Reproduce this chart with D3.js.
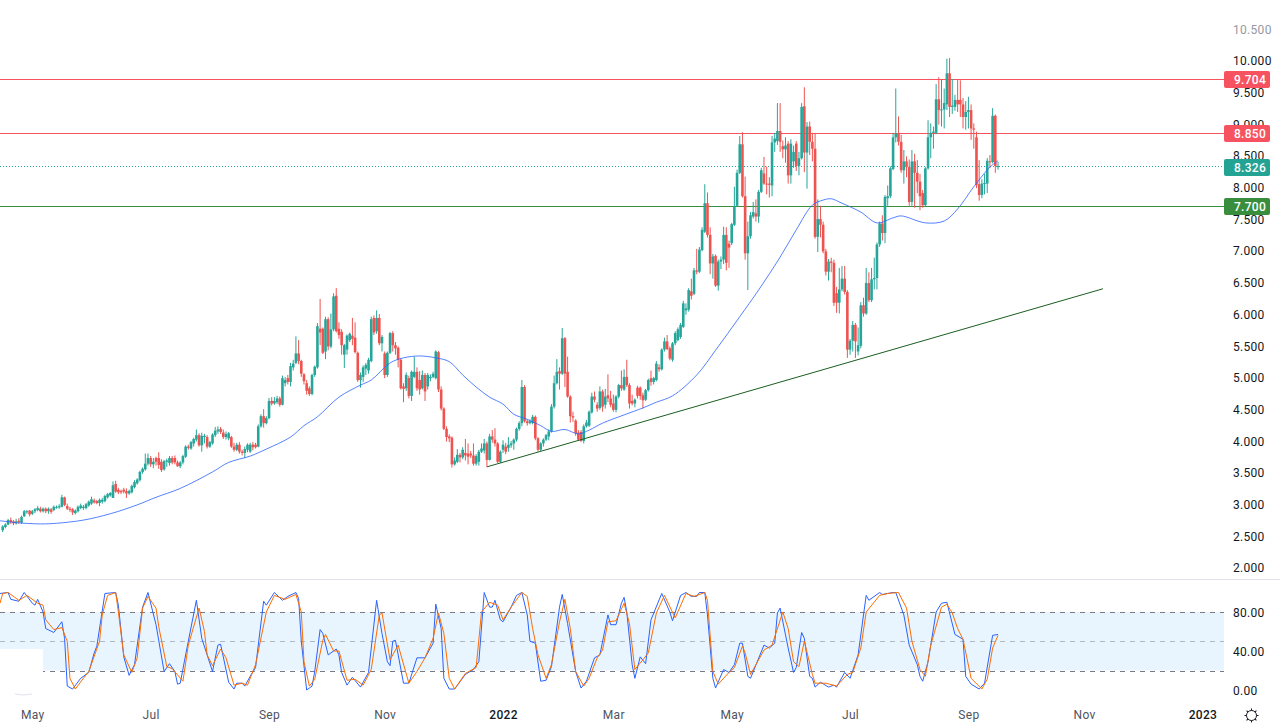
<!DOCTYPE html>
<html>
<head>
<meta charset="utf-8">
<script src="https://cdn.jsdelivr.net/npm/d3@7"></script>
<style>
  html, body { margin: 0; padding: 0; background: #fff; }
  svg { display: block; }
  text { font-family: Roboto, "Noto Sans", sans-serif; }
</style>
</head>
<body>
<svg id="chart" width="1280" height="728"></svg>
<script>
// daily candles, one value per bar
const opens = [
  2.58,2.63,2.67,2.74,2.72,2.69,2.73,2.70,2.80,2.87,
  2.89,2.84,2.88,2.90,2.92,2.88,2.92,2.88,2.91,2.90,
  2.94,2.94,2.95,3.10,2.96,2.92,2.91,2.85,2.88,2.93,
  2.93,2.93,2.97,3.00,3.05,3.04,3.01,3.03,3.04,3.10,
  3.13,3.09,3.31,3.22,3.20,3.22,3.20,3.16,3.18,3.26,
  3.32,3.37,3.50,3.54,3.63,3.72,3.62,3.72,3.72,3.66,
  3.54,3.66,3.64,3.72,3.72,3.65,3.59,3.65,3.74,3.90,
  3.87,3.95,4.01,4.08,3.92,4.05,4.05,3.90,3.95,4.08,
  4.14,4.18,4.12,4.05,4.03,4.05,3.90,3.85,3.93,3.82,
  3.80,3.85,3.82,3.93,3.93,3.90,4.22,4.38,4.27,4.35,
  4.62,4.58,4.60,4.66,4.56,4.90,4.98,4.92,5.15,5.22,
  5.37,5.25,5.04,4.90,4.82,4.73,5.03,5.15,5.76,5.76,
  5.40,5.91,5.48,5.75,6.28,5.76,5.71,5.35,5.43,5.58,
  5.65,5.62,5.38,4.95,5.00,5.13,5.10,5.25,5.93,5.72,
  5.93,5.53,5.37,5.03,5.38,5.69,5.50,5.46,5.27,4.85,
  4.82,4.98,4.70,5.00,5.08,4.95,4.82,5.03,4.85,4.98,
  5.00,4.98,5.39,4.80,4.50,4.18,4.06,4.04,3.62,3.66,
  3.77,3.73,3.80,3.79,3.79,3.76,3.63,3.66,3.82,3.84,
  3.95,3.69,4.06,4.01,3.95,3.66,3.85,3.90,3.88,3.92,
  3.95,4.01,4.18,4.27,4.84,4.30,4.27,4.27,4.37,4.03,
  3.85,3.95,4.01,4.06,4.14,4.53,4.90,5.09,5.05,5.61,
  5.08,4.69,4.38,4.31,4.12,4.13,3.99,4.22,4.23,4.44,
  4.69,4.56,4.51,4.77,4.56,4.71,4.66,4.58,4.48,4.69,
  4.87,4.80,5.00,4.87,4.62,4.58,4.83,4.83,4.71,4.64,
  4.79,4.98,4.92,4.95,5.15,5.12,5.43,5.56,5.45,5.27,
  5.53,5.58,5.63,5.79,6.05,6.06,6.35,6.31,6.68,6.66,
  7.00,7.29,7.74,7.24,6.79,6.91,6.44,6.82,6.85,7.24,
  7.10,7.11,7.40,7.70,8.22,8.67,7.85,6.95,7.22,7.53,
  7.58,7.53,7.92,8.21,8.05,8.05,8.02,8.70,8.72,8.88,
  8.64,8.59,8.68,8.18,8.40,8.68,8.33,8.45,9.27,8.54,
  8.95,8.71,8.60,7.21,7.49,7.40,6.98,6.66,6.82,6.80,
  6.32,6.17,6.38,6.55,6.34,5.43,5.57,5.82,5.40,5.49,
  6.13,6.00,6.48,6.21,6.54,6.56,7.09,7.42,7.27,7.82,
  7.85,8.28,8.78,8.84,8.71,8.26,8.40,8.31,7.76,8.40,
  8.22,8.08,7.90,7.71,8.29,8.78,8.85,8.85,9.38,9.21,
  9.22,9.30,9.79,9.26,9.26,9.37,9.37,9.30,9.10,9.18,
  9.21,8.92,8.78,8.04,7.87,8.05,8.05,8.40,8.39,9.12,
  8.31
];
const closes = [
  2.64,2.67,2.74,2.71,2.69,2.72,2.71,2.79,2.88,2.88,
  2.83,2.88,2.91,2.93,2.88,2.92,2.88,2.92,2.87,2.95,
  2.95,2.96,3.10,2.98,2.92,2.90,2.86,2.89,2.95,2.97,
  2.95,2.99,3.03,3.07,3.02,3.01,3.06,3.06,3.12,3.15,
  3.17,3.29,3.19,3.18,3.18,3.19,3.16,3.20,3.28,3.34,
  3.38,3.50,3.55,3.63,3.72,3.62,3.66,3.66,3.61,3.53,
  3.67,3.68,3.72,3.65,3.65,3.59,3.65,3.75,3.90,3.88,
  3.97,4.02,4.08,3.92,4.07,4.07,3.90,3.97,4.09,4.15,
  4.17,4.13,4.05,4.10,4.11,3.90,3.85,3.93,3.82,3.80,
  3.86,3.93,3.93,3.89,3.89,4.22,4.38,4.27,4.35,4.62,
  4.58,4.62,4.66,4.56,4.98,4.95,4.92,5.17,5.21,5.37,
  5.25,5.05,4.93,4.78,4.73,5.03,5.16,5.80,5.70,5.38,
  5.91,5.48,5.75,6.27,5.72,5.66,5.50,5.50,5.65,5.68,
  5.60,5.39,4.95,5.03,5.15,5.19,5.27,5.91,5.70,5.93,
  5.53,5.63,5.03,5.38,5.69,5.50,5.45,5.27,4.82,4.81,
  5.03,4.70,5.08,5.08,4.82,4.80,5.03,4.77,5.03,5.00,
  5.05,5.40,4.80,4.50,4.18,4.05,4.03,3.62,3.68,3.77,
  3.73,3.85,3.76,3.74,3.76,3.63,3.75,3.82,3.87,3.95,
  3.69,4.06,4.01,3.95,3.66,3.82,3.93,3.82,3.93,3.95,
  4.01,4.18,4.27,4.84,4.30,4.27,4.30,4.37,4.03,3.85,
  3.95,4.01,4.08,4.14,4.53,4.90,5.08,5.05,5.61,5.05,
  4.69,4.38,4.36,4.11,4.01,3.99,4.22,4.28,4.45,4.69,
  4.64,4.50,4.77,4.53,4.69,4.66,4.56,4.48,4.69,4.87,
  4.82,5.00,4.87,4.58,4.58,4.64,4.70,4.70,4.63,4.79,
  4.95,4.92,4.98,5.21,5.12,5.43,5.56,5.44,5.29,5.53,
  5.69,5.75,5.82,6.16,6.08,6.37,6.28,6.68,6.66,7.01,
  7.32,7.74,7.24,6.79,6.90,6.44,6.82,6.85,7.24,6.80,
  7.04,7.41,7.69,8.22,8.67,7.85,6.95,7.22,7.55,7.60,
  7.53,7.92,8.26,8.05,8.04,8.03,8.70,8.76,8.88,8.71,
  8.59,8.65,8.18,8.68,8.55,8.33,8.45,9.26,8.54,8.95,
  8.71,8.60,7.21,7.49,7.40,6.98,6.66,6.82,6.80,6.17,
  6.17,6.38,6.55,6.34,5.43,5.57,5.82,5.56,5.50,6.13,
  6.00,6.48,6.21,6.54,6.56,7.09,7.42,7.27,7.84,7.85,
  8.29,8.78,8.84,8.71,8.26,8.40,8.31,7.76,8.40,8.22,
  8.08,7.85,7.71,8.29,8.78,8.85,8.87,9.38,9.21,9.22,
  9.32,9.79,9.26,9.28,9.37,9.30,9.30,9.10,9.18,9.21,
  8.92,8.90,8.03,7.87,8.05,8.06,8.41,8.39,9.12,8.33,
  8.326
];
const highs = [
  2.66,2.69,2.76,2.78,2.74,2.76,2.77,2.81,2.90,2.90,
  2.90,2.90,2.93,2.96,2.95,2.94,2.94,2.94,2.93,2.97,
  2.97,2.99,3.14,3.11,3.00,2.95,2.93,2.91,2.97,3.00,
  2.98,3.01,3.05,3.11,3.08,3.06,3.08,3.09,3.14,3.17,
  3.18,3.35,3.36,3.25,3.22,3.25,3.24,3.22,3.30,3.37,
  3.40,3.52,3.57,3.79,3.79,3.75,3.72,3.74,3.81,3.70,
  3.69,3.71,3.75,3.75,3.76,3.68,3.67,3.77,3.92,3.93,
  3.99,4.04,4.17,4.11,4.12,4.10,4.08,3.99,4.11,4.21,
  4.22,4.21,4.17,4.14,4.13,4.07,3.96,3.96,3.97,3.85,
  3.90,3.95,3.96,3.97,3.96,4.25,4.41,4.49,4.38,4.67,
  4.68,4.68,4.70,4.69,5.02,5.00,5.03,5.22,5.27,5.64,
  5.58,5.27,5.06,4.95,4.85,5.05,5.18,5.85,6.23,5.78,
  5.95,5.94,6.00,6.32,6.40,5.86,5.75,5.52,5.67,5.70,
  5.93,5.86,5.40,5.07,5.18,5.22,5.30,5.95,5.97,6.05,
  5.99,5.66,5.40,5.40,5.71,5.72,5.55,5.48,5.29,4.90,
  5.07,5.02,5.10,5.32,5.15,5.09,5.10,5.06,5.06,5.04,
  5.08,5.42,5.41,4.85,4.52,4.22,4.09,4.06,3.73,3.86,
  3.80,3.89,4.02,3.95,3.83,3.95,3.78,3.85,3.95,4.02,
  3.98,4.10,4.16,4.19,3.97,3.84,4.00,3.96,4.05,3.99,
  4.03,4.20,4.30,4.95,4.87,4.33,4.33,4.40,4.39,4.05,
  3.97,4.03,4.10,4.17,4.57,5.02,5.28,5.15,5.77,5.63,
  5.32,4.71,4.45,4.33,4.16,4.16,4.25,4.32,4.47,4.75,
  4.77,4.60,4.85,4.80,4.81,5.04,4.78,4.72,4.71,4.89,
  5.10,5.12,5.27,4.90,4.72,4.66,4.86,4.85,4.75,4.81,
  4.97,5.10,5.00,5.25,5.20,5.45,5.62,5.66,5.48,5.55,
  5.72,5.78,5.85,6.20,6.16,6.40,6.55,6.72,7.02,7.05,
  7.36,8.04,7.91,7.36,6.94,6.93,6.85,6.90,7.37,7.36,
  7.15,7.43,8.00,8.27,8.80,8.86,8.16,7.45,7.60,7.76,
  7.80,7.95,8.30,8.47,8.32,8.15,8.80,8.85,9.32,9.32,
  8.73,8.78,8.72,8.75,8.65,8.72,8.55,9.32,9.57,9.02,
  9.03,8.85,8.85,7.80,7.70,7.45,7.02,6.86,6.88,6.85,
  6.42,6.72,6.75,6.75,6.37,5.60,5.88,5.85,5.78,6.18,
  6.25,6.72,6.65,6.72,6.88,7.12,7.45,7.55,7.87,8.02,
  8.32,8.85,9.55,9.11,8.82,8.58,8.48,8.43,8.58,8.52,
  8.42,8.20,7.95,8.31,9.05,9.00,8.95,9.62,9.73,9.70,
  9.55,10.02,10.03,9.70,9.45,9.70,9.68,9.40,9.35,9.42,
  9.30,9.00,8.87,8.42,8.12,8.20,8.45,8.50,9.24,9.14,
  8.39
];
const lows = [
  2.55,2.61,2.66,2.68,2.66,2.67,2.68,2.68,2.79,2.84,
  2.80,2.82,2.85,2.88,2.86,2.86,2.85,2.84,2.84,2.88,
  2.92,2.92,2.94,2.96,2.90,2.87,2.82,2.83,2.86,2.91,
  2.90,2.91,2.95,2.98,3.00,2.99,2.96,3.00,3.02,3.08,
  3.11,3.09,3.17,3.15,3.15,3.16,3.09,3.14,3.16,3.24,
  3.30,3.35,3.47,3.52,3.60,3.58,3.56,3.60,3.55,3.50,
  3.52,3.58,3.60,3.62,3.62,3.58,3.56,3.62,3.72,3.85,
  3.85,3.90,3.98,3.90,3.82,3.95,3.87,3.88,3.93,4.05,
  4.10,4.10,4.02,4.01,4.00,3.88,3.82,3.83,3.79,3.76,
  3.72,3.81,3.80,3.84,3.87,3.89,4.20,4.20,4.25,4.33,
  4.55,4.56,4.57,4.53,4.55,4.85,4.88,4.85,5.10,5.20,
  5.20,5.00,4.88,4.72,4.70,4.71,5.00,5.13,5.50,5.36,
  5.28,5.42,5.45,5.72,5.70,5.60,5.35,5.14,5.35,5.55,
  5.50,5.37,4.92,4.83,4.92,5.03,5.05,5.23,5.66,5.68,
  5.50,5.40,4.98,5.00,5.36,5.40,5.35,5.15,4.80,4.60,
  4.78,4.66,4.62,4.98,4.78,4.72,4.80,4.62,4.80,4.93,
  4.98,4.96,4.76,4.47,4.16,3.98,3.97,3.57,3.60,3.64,
  3.65,3.70,3.68,3.62,3.72,3.60,3.60,3.60,3.80,3.79,
  3.58,3.68,3.96,3.90,3.64,3.64,3.80,3.78,3.82,3.88,
  3.85,3.98,4.15,4.22,4.28,4.23,4.25,4.25,4.00,3.82,
  3.83,3.90,3.99,4.00,4.12,4.50,4.88,4.80,5.03,4.84,
  4.67,4.28,4.29,4.07,3.99,3.97,3.95,4.20,4.21,4.42,
  4.60,4.45,4.48,4.45,4.50,4.60,4.52,4.45,4.44,4.66,
  4.78,4.78,4.84,4.50,4.55,4.52,4.66,4.64,4.50,4.62,
  4.77,4.86,4.88,4.93,5.08,5.10,5.40,5.42,5.26,5.24,
  5.50,5.56,5.60,5.77,5.98,6.03,6.22,6.29,6.62,6.64,
  6.98,7.27,7.20,6.62,6.55,6.42,6.36,6.70,6.78,6.68,
  6.72,7.08,7.38,7.68,8.20,7.83,6.85,6.37,7.18,7.50,
  7.45,7.43,7.90,8.03,7.88,7.83,7.85,8.55,8.66,8.55,
  8.45,8.38,8.05,8.05,8.30,8.25,8.18,8.43,8.23,7.97,
  8.50,8.40,7.18,6.97,7.20,6.95,6.60,6.52,6.65,6.12,
  6.01,6.00,6.35,6.30,5.30,5.35,5.40,5.30,5.34,5.45,
  5.95,5.98,6.18,6.18,6.38,6.38,7.05,7.15,7.11,7.70,
  7.82,8.26,8.70,8.65,8.22,8.05,8.15,7.70,7.68,7.67,
  7.90,7.63,7.67,7.69,8.27,8.45,8.60,8.83,8.98,8.95,
  8.92,9.21,9.10,9.15,9.20,9.18,9.10,8.92,8.90,8.92,
  8.74,8.60,7.98,7.78,7.82,7.88,7.90,8.30,8.37,8.22,
  8.27
];

// moving average, [bar, price]
const movingAverage = [
  [-1,2.73],[5,2.70],[14,2.68],[20,2.69],[30,2.74],[40,2.84],[50,2.98],[57,3.10],[66,3.24],
  [78,3.50],[84,3.65],[92,3.75],[98,3.86],[107,4.05],[112,4.23],[117,4.37],[125,4.68],
  [133,4.87],[137,4.95],[144,5.22],[149,5.30],[155,5.33],[161,5.30],[166,5.24],[171,5.03],
  [176,4.84],[181,4.68],[186,4.57],[190,4.41],[195,4.33],[200,4.23],[204,4.14],[209,4.17],
  [214,4.10],[218,4.16],[223,4.27],[231,4.40],[238,4.51],[243,4.60],[249,4.70],
  [258,5.03],[265,5.42],[274,5.95],[281,6.37],[289,6.89],[295,7.32],[301,7.71],
  [305,7.79],[308,7.81],[312,7.74],[319,7.60],[325,7.43],[331,7.51],[334,7.54],[343,7.43],
  [350,7.46],[355,7.65],[361,8.00],[367,8.31],[370,8.41]
];

// stochastic %K and %D, [bar, value]
const stochK = [
  [-1,99],[2,100],[3,93],[6,91],[8,100],[11,89],[12,87],[13,93],[15,80],[16,63],[19,59],[22,70],
  [23,53],[24,4],[26,1],[29,12],[32,18],[34,38],[35,45],[38,99],[42,100],[43,87],[45,34],[47,15],
  [49,26],[52,85],[54,100],[57,67],[60,19],[62,27],[64,19],[65,6],[66,7],[68,36],[72,92],[74,53],
  [78,19],[80,46],[81,47],[84,8],[86,1],[87,7],[89,7],[90,4],[92,14],[94,23],[97,91],[98,87],
  [101,100],[104,92],[106,96],[109,100],[110,94],[111,50],[113,0],[115,4],[116,19],[118,62],
  [119,58],[121,36],[124,42],[125,36],[126,18],[128,5],[130,13],[133,3],[136,18],[139,92],[141,58],
  [143,29],[144,25],[145,50],[146,51],[149,7],[151,7],[154,33],[157,33],[160,48],[161,88],[163,63],
  [164,12],[166,1],[168,1],[172,16],[175,21],[177,29],[179,100],[181,85],[182,85],[183,92],
  [185,72],[186,70],[189,85],[191,97],[193,100],[195,77],[196,50],[198,48],[200,9],[202,10],
  [204,24],[207,85],[208,98],[210,68],[213,19],[215,2],[217,9],[220,33],[222,36],[225,77],[226,67],
  [228,67],[230,89],[231,95],[232,80],[234,26],[235,12],[237,34],[239,27],[241,72],[245,99],
  [248,80],[249,71],[252,97],[254,100],[256,96],[258,96],[259,100],[261,100],[262,77],[264,12],
  [265,2],[268,21],[270,18],[272,26],[274,48],[275,48],[277,14],[278,12],[283,46],[285,43],[287,48],
  [288,79],[289,84],[292,43],[294,18],[295,23],[297,59],[298,53],[300,14],[301,12],[302,3],[304,8],
  [307,3],[309,5],[310,3],[313,18],[315,12],[318,36],[320,77],[321,97],[322,92],[326,100],[327,98],
  [329,99],[331,100],[332,100],[335,77],[337,46],[340,26],[341,14],[342,9],[344,29],[347,80],
  [349,89],[351,90],[354,57],[357,52],[358,14],[360,6],[363,1],[365,7],[368,56],[370,57]
];
const stochD = [
  [-1,89],[0,99],[2,100],[6,92],[9,97],[13,89],[15,87],[16,72],[19,62],[22,64],[24,50],[25,12],
  [27,1],[30,12],[32,19],[36,50],[37,77],[39,97],[42,100],[43,80],[45,36],[48,18],[50,33],[52,84],
  [54,96],[57,84],[58,65],[61,24],[63,22],[67,9],[69,46],[73,84],[75,60],[76,36],[78,25],[81,42],
  [83,33],[86,5],[89,7],[91,5],[94,26],[98,80],[101,97],[105,93],[109,98],[111,80],[112,29],[114,4],
  [116,11],[119,51],[120,57],[123,40],[125,40],[128,10],[131,11],[134,5],[137,21],[140,77],[141,79],
  [144,31],[147,46],[151,7],[154,19],[157,33],[160,53],[162,79],[164,58],[166,12],[168,1],[172,17],
  [176,23],[178,80],[181,90],[184,87],[186,72],[189,85],[193,100],[195,96],[197,63],[199,36],[202,12],
  [204,26],[207,70],[209,93],[211,63],[213,19],[216,4],[218,12],[221,33],[223,41],[225,70],[228,71],
  [231,89],[233,68],[235,21],[238,31],[240,38],[243,79],[246,97],[250,74],[254,99],[257,96],[261,100],
  [262,92],[264,19],[266,6],[270,18],[272,23],[275,45],[276,38],[278,16],[283,41],[286,46],[290,80],
  [292,63],[294,29],[296,24],[298,50],[301,16],[302,7],[306,7],[310,4],[314,16],[316,18],[319,43],
  [321,80],[326,97],[329,99],[333,100],[336,84],[338,50],[341,21],[343,14],[345,46],[349,85],[351,88],
  [353,79],[355,63],[357,52],[360,12],[364,1],[366,11],[368,43],[370,56]
];

const trendBars = [180, 409];
const trendPrices = [3.58, 6.39];

const priceTicks = [2,2.5,3,3.5,4,4.5,5,5.5,6,6.5,7,7.5,8,8.5,9,9.5,10,10.5];
const stochTicks = [0, 40, 80];
const stochBands = [20, 50, 80];
const timeTickBars = [11, 55, 99, 142, 186, 227, 271, 315, 359, 402, 446];
const timeTickLabels = ["May","Jul","Sep","Nov","2022","Mar","May","Jul","Sep","Nov","2023"];

const resistanceLevels = [9.704, 8.85];
const supportLevel = 7.7;
const lastPrice = 8.326;

const UP = "#26a69a", DOWN = "#ef5350";

const svg = d3.select("#chart");

// scales
const x = d3.scaleLinear().domain([0, 370]).range([2.7, 998]);
const y = d3.scaleLinear().domain([2, 10]).range([567, 60]);
const yStoch = d3.scaleLinear().domain([0, 80]).range([690, 612]);

// pane divider
svg.append("line")
  .attr("x1", 0).attr("x2", 1280).attr("y1", 579.5).attr("y2", 579.5)
  .attr("stroke", "#e0e3eb");

// horizontal levels
const levels = svg.append("g");
resistanceLevels.forEach(function (p) {
  levels.append("line")
    .attr("x1", 0).attr("x2", 1224)
    .attr("y1", Math.round(y(p)) + 0.5).attr("y2", Math.round(y(p)) + 0.5)
    .attr("stroke", "#f7525f");
});
levels.append("line")
  .attr("x1", 0).attr("x2", 1224)
  .attr("y1", Math.round(y(supportLevel)) + 0.5).attr("y2", Math.round(y(supportLevel)) + 0.5)
  .attr("stroke", "#388e3c");
levels.append("line")
  .attr("x1", 0).attr("x2", 1224)
  .attr("y1", Math.round(y(lastPrice)) + 0.5).attr("y2", Math.round(y(lastPrice)) + 0.5)
  .attr("stroke", UP).attr("stroke-dasharray", "1,2");

// candles
const candles = svg.append("g").selectAll("g")
  .data(d3.range(opens.length))
  .enter().append("g")
  .attr("fill", (i) => (closes[i] >= opens[i] ? UP : DOWN))
  .attr("stroke", (i) => (closes[i] >= opens[i] ? UP : DOWN));
candles.append("line")
  .attr("x1", (i) => x(i))
  .attr("x2", (i) => x(i))
  .attr("y1", (i) => y(highs[i]))
  .attr("y2", (i) => y(lows[i]));
candles.append("rect")
  .attr("stroke", "none")
  .attr("x", (i) => x(i) - 1.3)
  .attr("width", 2.6)
  .attr("y", (i) => y(Math.max(opens[i], closes[i])))
  .attr("height", (i) => Math.max(1, Math.abs(y(opens[i]) - y(closes[i]))));

// moving average and trend line
svg.append("path")
  .attr("fill", "none").attr("stroke", "#2962ff").attr("stroke-width", 0.8)
  .attr("d", d3.line().x((d) => Math.max(0, x(d[0]))).y((d) => y(d[1])).curve(d3.curveCatmullRom)(movingAverage));
svg.append("line")
  .attr("x1", x(trendBars[0])).attr("y1", y(trendPrices[0]))
  .attr("x2", x(trendBars[1])).attr("y2", y(trendPrices[1]))
  .attr("stroke", "#1b5e20").attr("stroke-width", 1);

// stochastic pane
svg.append("rect")
  .attr("x", 0).attr("width", 1224)
  .attr("y", yStoch(80)).attr("height", yStoch(20) - yStoch(80))
  .attr("fill", "#2196f3").attr("fill-opacity", 0.1);
svg.selectAll(".band")
  .data(stochBands)
  .enter().append("line")
  .attr("class", "band")
  .attr("x1", 0).attr("x2", 1224)
  .attr("y1", (d) => Math.round(yStoch(d)) + 0.5).attr("y2", (d) => Math.round(yStoch(d)) + 0.5)
  .attr("stroke", "#787b86").attr("stroke-dasharray", "5,5")
  .attr("stroke-opacity", (d) => (d === 50 ? 0.5 : 1));
// the pane legend box left a white patch in the band, and a faint mark below it
svg.append("rect").attr("x", 0).attr("y", 649).attr("width", 43).attr("height", 24).attr("fill", "#fff");
svg.append("path").attr("d", "M15,694 Q23,696 32,694").attr("fill", "none").attr("stroke", "#e0e3eb");

const stochLine = d3.line().x((d) => x(d[0])).y((d) => yStoch(d[1]));
const stochLines = svg.append("g");
stochLines.append("path").attr("fill", "none").attr("stroke", "#2962ff").attr("d", stochLine(stochK));
stochLines.append("path").attr("fill", "none").attr("stroke", "#ff6d00").attr("d", stochLine(stochD));

// right axes
const priceAxis = svg.append("g")
  .attr("transform", "translate(1233,1)")
  .call(d3.axisRight(y).tickValues(priceTicks).tickSize(0).tickPadding(0).tickFormat(d3.format(".3f")));
priceAxis.select(".domain").remove();
priceAxis.selectAll("text")
  .attr("font-size", 12).attr("letter-spacing", 0.3)
  .attr("font-family", "Roboto")
  .attr("fill", (d) => (d === 10.5 ? "#9598a1" : "#131722"));

const stochAxis = svg.append("g")
  .attr("transform", "translate(1233,1)")
  .call(d3.axisRight(yStoch).tickValues(stochTicks).tickSize(0).tickPadding(0).tickFormat(d3.format(".2f")));
stochAxis.select(".domain").remove();
stochAxis.selectAll("text")
  .attr("font-size", 12).attr("letter-spacing", 0.3)
  .attr("font-family", "Roboto").attr("fill", "#131722");

// price tags, the last-price tag sits a pixel lower in the reference
const tags = [
  { price: resistanceLevels[0], color: "#f7525f", nudge: 0 },
  { price: resistanceLevels[1], color: "#f7525f", nudge: 0 },
  { price: lastPrice, color: "#22a394", nudge: 1 },
  { price: supportLevel, color: "#388e3c", nudge: 0 }
];
const tag = svg.append("g").selectAll("g").data(tags).enter().append("g")
  .attr("transform", (d) => "translate(1224," + (Math.round(y(d.price)) + d.nudge) + ")");
tag.append("rect")
  .attr("x", 0).attr("y", -8).attr("width", 46).attr("height", 17).attr("rx", 2)
  .attr("fill", (d) => d.color);
tag.append("text")
  .attr("x", 10).attr("y", 5)
  .attr("font-size", 12).attr("font-weight", 500).attr("letter-spacing", 0.3)
  .attr("fill", "#fff")
  .text((d) => d3.format(".3f")(d.price));

// time axis
const timeAxis = svg.append("g")
  .attr("transform", "translate(0,710)")
  .call(d3.axisBottom(x).tickValues(timeTickBars).tickSize(0).tickPadding(0)
    .tickFormat((d, i) => timeTickLabels[i]));
timeAxis.select(".domain").remove();
timeAxis.selectAll("text")
  .attr("font-size", 12).attr("letter-spacing", 0.3)
  .attr("font-family", "Roboto")
  .attr("fill", (d, i) => (/^\d/.test(timeTickLabels[i]) ? "#131722" : "#50535e"))
  .attr("font-weight", (d, i) => (/^\d/.test(timeTickLabels[i]) ? 500 : 400));

// settings gear
const gear = svg.append("g").attr("transform", "translate(1251.5,715.5)")
  .attr("fill", "none").attr("stroke", "#131722");
gear.append("circle").attr("r", 5);
gear.selectAll("line").data(d3.range(8)).enter().append("line")
  .attr("y1", -5).attr("y2", -7)
  .attr("transform", (d) => "rotate(" + d * 45 + ")");
</script>
</body>
</html>
